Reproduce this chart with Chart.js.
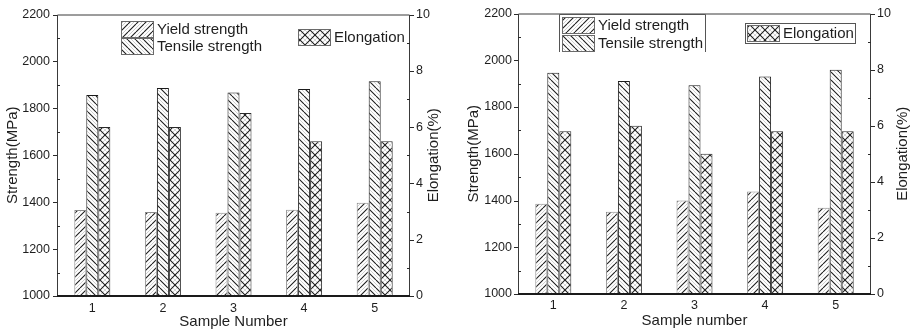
<!DOCTYPE html>
<html>
<head>
<meta charset="utf-8">
<script src="https://cdn.jsdelivr.net/npm/chart.js@4/dist/chart.umd.min.js"></script>
<style>
  html, body { margin: 0; padding: 0; background: #fff; }
  #wrap { display: flex; width: 911px; height: 335px; }
  canvas { display: block; }
</style>
</head>
<body>
<div id="wrap">
  <canvas id="c1" width="455" height="335"></canvas>
  <canvas id="c2" width="456" height="335"></canvas>
</div>
<script>
// ---------- data ----------
const samples = ['1', '2', '3', '4', '5'];
const strengthTicks = [1000, 1200, 1400, 1600, 1800, 2000, 2200];
const elongTicks = [0, 2, 4, 6, 8, 10];

// left panel
const yieldA   = [1367, 1358, 1355, 1368, 1398];
const tensileA = [1857, 1887, 1868, 1882, 1915];
const elongA   = [6.0, 6.0, 6.5, 5.5, 5.5];

// right panel
const yieldB   = [1386, 1352, 1400, 1438, 1369];
const tensileB = [1946, 1911, 1893, 1931, 1959];
const elongB   = [5.8, 6.0, 5.0, 5.8, 5.8];

const FONT = "'Liberation Sans', Arial, sans-serif";
const TXT = '#1e1e1e';
const TICK_SIZE = 12.5;

// ---------- hatch patterns ----------
function makePattern(kind) {
  const s = kind === 'cross' ? 10 : 8;
  const c = document.createElement('canvas');
  c.width = s; c.height = s;
  const g = c.getContext('2d');
  g.fillStyle = '#fff';
  g.fillRect(0, 0, s, s);
  function lines(dir, off, color, w) {
    g.strokeStyle = color; g.lineWidth = w;
    g.beginPath();
    for (let k = -1; k <= 1; k++) {
      const x0 = k * s + off;
      if (dir === '/') { g.moveTo(x0, s); g.lineTo(x0 + s, 0); }
      else { g.moveTo(x0, 0); g.lineTo(x0 + s, s); }
    }
    g.stroke();
  }
  if (kind === '/' || kind === '\\') {
    lines(kind, s / 2, '#d0d0d0', 1);
    lines(kind, 0, '#1e1e1e', 1.1);
  } else {
    lines('/', s / 2, '#d8d8d8', 1);
    lines('\\', s / 2, '#d8d8d8', 1);
    lines('/', 0, '#1e1e1e', 1.1);
    lines('\\', 0, '#1e1e1e', 1.1);
  }
  return g.createPattern(c, 'repeat');
}
const pat = {
  y: makePattern('/'),
  t: makePattern('\\'),
  e: makePattern('cross')
};
const borders = { y: '#8a8a8a', t: '#1a1a1a', e: '#2a2a2a' };

// ---------- plugin: frame, minor ticks, right title, legend ----------
function panelPlugin(L) {
  return {
    id: 'panel',
    afterDatasetsDraw(chart) {
      const ctx = chart.ctx;
      const a = chart.chartArea;
      const sy = chart.scales.y, sy1 = chart.scales.y1;
      ctx.save();
      ctx.strokeStyle = '#3a3a3a';
      ctx.lineWidth = 1;
      ctx.beginPath();
      ctx.moveTo(a.left + 0.5, a.bottom);
      ctx.lineTo(a.left + 0.5, a.top + 0.5);
      ctx.lineTo(a.right - 0.5, a.top + 0.5);
      ctx.lineTo(a.right - 0.5, a.bottom);
      ctx.stroke();
      ctx.strokeStyle = '#1a1a1a';
      ctx.lineWidth = 2;
      ctx.beginPath();
      ctx.moveTo(a.left, a.bottom);
      ctx.lineTo(a.right, a.bottom);
      ctx.stroke();
      ctx.strokeStyle = '#2a2a2a';
      ctx.lineWidth = 1;
      ctx.beginPath();
      for (let i = 0; i < strengthTicks.length; i++) {
        const v = strengthTicks[i];
        const p = Math.round(sy.getPixelForValue(v)) + 0.5;
        ctx.moveTo(a.left - 4, p); ctx.lineTo(a.left, p);
        if (i < strengthTicks.length - 1) {
          const m = Math.round(sy.getPixelForValue((v + strengthTicks[i + 1]) / 2)) + 0.5;
          ctx.moveTo(a.left, m); ctx.lineTo(a.left + 3, m);
        }
      }
      for (let i = 0; i < elongTicks.length; i++) {
        const v = elongTicks[i];
        const p = Math.round(sy1.getPixelForValue(v)) + 0.5;
        ctx.moveTo(a.right, p); ctx.lineTo(a.right + 4, p);
        if (i < elongTicks.length - 1) {
          const m = Math.round(sy1.getPixelForValue((v + elongTicks[i + 1]) / 2)) + 0.5;
          ctx.moveTo(a.right - 3, m); ctx.lineTo(a.right, m);
        }
      }
      ctx.stroke();
      ctx.restore();
    },
    afterDraw(chart) {
      const ctx = chart.ctx;
      const a = chart.chartArea;
      ctx.save();
      ctx.fillStyle = TXT;
      ctx.font = '15px ' + FONT;
      ctx.textAlign = 'center';
      ctx.textBaseline = 'middle';
      ctx.translate(L.rTitleX, (a.top + a.bottom) / 2);
      ctx.rotate(-Math.PI / 2);
      ctx.fillText('Elongation(%)', 0, 0);
      ctx.restore();

      ctx.save();
      if (L.box1) {
        ctx.strokeStyle = '#555';
        ctx.lineWidth = 1;
        const b = L.box1;
        ctx.beginPath();
        ctx.moveTo(b[0] + 0.5, b[3]); ctx.lineTo(b[0] + 0.5, b[1] + 0.5);
        ctx.lineTo(b[2] + 0.5, b[1] + 0.5); ctx.lineTo(b[2] + 0.5, b[3]);
        ctx.stroke();
      }
      if (L.box2) {
        const b = L.box2;
        ctx.strokeStyle = '#555';
        ctx.strokeRect(b[0] + 0.5, b[1] + 0.5, b[2] - b[0], b[3] - b[1]);
      }
      const ds = chart.data.datasets;
      function sw(x, y, w, h, d) {
        ctx.fillStyle = d.backgroundColor;
        ctx.fillRect(x, y, w, h);
        ctx.strokeStyle = '#6a6a6a';
        ctx.lineWidth = 1;
        ctx.strokeRect(x + 0.5, y + 0.5, w, h);
      }
      sw(L.sx, L.y1, L.sw, L.sh, ds[0]);
      sw(L.sx, L.y2, L.sw, L.sh, ds[1]);
      sw(L.ex, L.ey, L.sw, L.sh, ds[2]);
      ctx.fillStyle = TXT;
      ctx.font = '15px ' + FONT;
      ctx.textAlign = 'left';
      ctx.textBaseline = 'middle';
      ctx.fillText(ds[0].label, L.sx + L.sw + 4, L.y1 + L.sh / 2 + 1);
      ctx.fillText(ds[1].label, L.sx + L.sw + 4, L.y2 + L.sh / 2 + 1);
      ctx.fillText(ds[2].label, L.ex + L.sw + 4, L.ey + L.sh / 2 + 1);
      ctx.restore();
    }
  };
}

function makeChart(id, yieldV, tensileV, elongV, xTitle, L) {
  return new Chart(document.getElementById(id), {
    type: 'bar',
    data: {
      labels: samples,
      datasets: [
        { label: 'Yield strength', data: yieldV, yAxisID: 'y',
          backgroundColor: pat.y, borderColor: borders.y, borderWidth: 1 },
        { label: 'Tensile strength', data: tensileV, yAxisID: 'y',
          backgroundColor: pat.t, borderColor: borders.t, borderWidth: 1 },
        { label: 'Elongation', data: elongV, yAxisID: 'y1',
          backgroundColor: pat.e, borderColor: borders.e, borderWidth: 1 }
      ]
    },
    options: {
      responsive: false,
      animation: false,
      devicePixelRatio: 1,
      layout: { padding: { top: L.top, left: 0, right: 0, bottom: 0 } },
      plugins: { legend: { display: false }, tooltip: { enabled: false } },
      datasets: { bar: { categoryPercentage: 0.51, barPercentage: 1.0, borderSkipped: 'start' } },
      scales: {
        x: {
          grid: { display: false, drawTicks: false },
          border: { display: false },
          ticks: { color: TXT, font: { family: FONT, size: TICK_SIZE }, padding: L.xPad },
          title: { display: true, text: xTitle, color: TXT, font: { family: FONT, size: 15 },
                   padding: { top: 0, bottom: L.xTitlePad } },
          afterFit: s => { s.height = L.xH; }
        },
        y: {
          position: 'left', min: 1000, max: 2200,
          afterBuildTicks: s => { s.ticks = strengthTicks.map(v => ({ value: v })); },
          grid: { display: false, drawTicks: false },
          border: { display: false },
          ticks: { color: TXT, font: { family: FONT, size: TICK_SIZE }, padding: L.yPad,
                   callback: v => String(v) },
          title: { display: true, text: 'Strength(MPa)', color: TXT, font: { family: FONT, size: 15 },
                   padding: { top: L.yTitlePad, bottom: 0 } },
          afterFit: s => { s.width = L.yW; }
        },
        y1: {
          position: 'right', min: 0, max: 10,
          afterBuildTicks: s => { s.ticks = elongTicks.map(v => ({ value: v })); },
          grid: { display: false, drawTicks: false },
          border: { display: false },
          ticks: { color: TXT, font: { family: FONT, size: TICK_SIZE }, padding: L.y1Pad,
                   callback: v => String(v) },
          afterFit: s => { s.width = L.y1W; }
        }
      }
    },
    plugins: [panelPlugin(L)]
  });
}

makeChart('c1', yieldA, tensileA, elongA, 'Sample Number', {
  top: 11, xH: 39, yW: 57, y1W: 45, xPad: 5, yPad: 7, y1Pad: 6,
  xTitlePad: 4, yTitlePad: 4, rTitleX: 434,
  sx: 121, sw: 32, sh: 16, y1: 21, y2: 38, ex: 298, ey: 29,
  box1: null, box2: null
});

makeChart('c2', yieldB, tensileB, elongB, 'Sample number', {
  top: 9, xH: 41, yW: 63, y1W: 40, xPad: 4, yPad: 6, y1Pad: 6,
  xTitlePad: 5, yTitlePad: 10, rTitleX: 448,
  sx: 107, sw: 32, sh: 16, y1: 17, y2: 35, ex: 292, ey: 25,
  box1: [104, 14, 250, 52], box2: [290, 23, 400, 43]
});
</script>
</body>
</html>
